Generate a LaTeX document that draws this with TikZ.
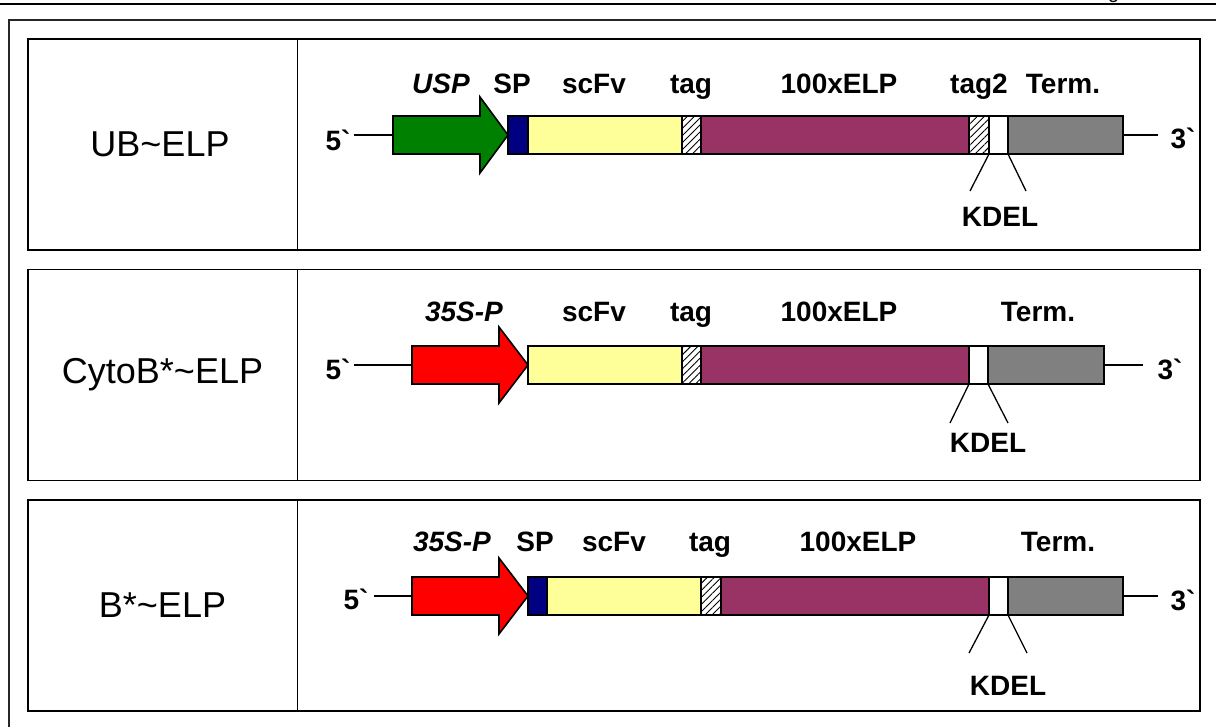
\documentclass[tikz,border=0pt]{standalone}
\usepackage{fontspec}
\setmainfont{Liberation Sans}[Ligatures=TeXOff]
\usetikzlibrary{patterns.meta}
\definecolor{promgreen}{RGB}{0,128,0}
\definecolor{promred}{RGB}{255,0,0}
\definecolor{spnavy}{RGB}{0,0,128}
\definecolor{scfvyellow}{RGB}{255,255,153}
\definecolor{elppurple}{RGB}{153,51,102}
\definecolor{termgray}{RGB}{128,128,128}
\tikzset{
  seg/.style={draw=black, line width=1.6pt, inner sep=0pt, outer sep=0pt, minimum height=38pt, anchor=west},
  hatchseg/.style={seg, fill=white, postaction={pattern={Lines[angle=45,distance=5pt,line width=0.9pt]}}},
  promo/.style={draw=black, line width=1.6pt, line join=miter},
  wire/.style={draw=black, line width=1.3pt},
  lab/.style={font=\bfseries\fontsize{28}{30}\selectfont, anchor=base, inner sep=0pt},
  labit/.style={font=\bfseries\itshape\fontsize{28}{30}\selectfont, anchor=base, inner sep=0pt},
  namelab/.style={font=\fontsize{36}{40}\selectfont, inner sep=0pt},
  panelbox/.style={draw=black, line width=1.8pt, inner sep=0pt, outer sep=0pt, anchor=north west, minimum width=1172pt, minimum height=211pt},
  panelline/.style={draw=black, line width=1.8pt},
  frameline/.style={draw=black!85, line width=1.6pt},
}
\newcommand\segm[5]{\node[seg,#5,minimum width={#3pt-#2pt}] (#1) at (#2,#4) {};}
\begin{document}
\begin{tikzpicture}[x=1pt,y=-1pt]
\useasboundingbox (0,0) rectangle (1216,726);
% header rule and clipped header glyph
\coordinate (hl) at (0,4); \coordinate (hr) at (1216,4);
\draw[line width=2.6pt] (hl) -- (hr);
\node[anchor=base, inner sep=0pt, font=\itshape\fontsize{20}{22}\selectfont] (hdg) at (1115,-2) {g};
% outer frame
\coordinate (fb) at (9,730); \coordinate (fc) at (9,20); \coordinate (fr) at (1220,20);
\draw[frameline] (fb) -- (fc) -- (fr);
% panels
\node[panelbox] (pan1) at (28,39) {};
\node[panelbox] (pan2) at (28,269.5) {};
\node[panelbox] (pan3) at (28,500) {};
\coordinate (d1t) at (297.5,39); \coordinate (d1b) at (297.5,250);
\coordinate (d2t) at (297.5,269.5); \coordinate (d2b) at (297.5,480.5);
\coordinate (d3t) at (297.5,500); \coordinate (d3b) at (297.5,711);
\draw[panelline] (d1t) -- (d1b);
\draw[panelline] (d2t) -- (d2b);
\draw[panelline] (d3t) -- (d3b);
\node[namelab] (n1) at (160,144.5) {UB\textasciitilde ELP};
\node[namelab] (n2) at (162.5,375) {CytoB*\textasciitilde ELP};
\node[namelab] (n3) at (162.5,605.5) {B*\textasciitilde ELP};

% ---------- panel 1 ----------
\draw[promo, fill=promgreen] (393,116) -- (480,116) -- (480,97) -- (508,135) -- (480,173) -- (480,154) -- (393,154) -- cycle;
\coordinate (a1tail) at (393,135);
\segm{a1sp}{508}{528}{135}{fill=spnavy}
\segm{a1scfv}{528}{682}{135}{fill=scfvyellow}
\segm{a1tag}{682}{701}{135}{hatchseg}
\segm{a1elp}{701}{969}{135}{fill=elppurple}
\segm{a1tagb}{969}{989}{135}{hatchseg}
\segm{a1kdel}{989}{1008}{135}{fill=white}
\segm{a1term}{1008}{1123}{135}{fill=termgray}
\node[lab] (a1five) at (338,150) {5`};
\node[lab] (a1three) at (1183,148) {3`};
\coordinate (a1ws) at (354,135); \coordinate (a1we) at (1158,135);
\draw[wire] (a1ws) -- (a1tail);
\draw[wire] (a1term.east) -- (a1we);
\coordinate (a1kl) at (970,191); \coordinate (a1kr) at (1026,191);
\draw[wire] (a1kdel.south west) -- (a1kl);
\draw[wire] (a1kdel.south east) -- (a1kr);
\node[lab] (a1kdeltxt) at (1000,226) {KDEL};
\node[labit] (a1usp) at (441,93) {USP};
\node[lab] (a1splab) at (512,93) {SP};
\node[lab] (a1scfvlab) at (594,93) {scFv};
\node[lab] (a1taglab) at (691,93) {tag};
\node[lab] (a1elplab) at (839,93) {100xELP};
\node[lab] (a1tagblab) at (979,93) {tag2};
\node[lab] (a1termlab) at (1063,93) {Term.};

% ---------- panel 2 ----------
\draw[promo, fill=promred] (412,346) -- (499,346) -- (499,327) -- (528,365) -- (499,403) -- (499,384) -- (412,384) -- cycle;
\coordinate (a2tail) at (412,365);
\segm{a2scfv}{528}{682}{365}{fill=scfvyellow}
\segm{a2tag}{682}{701}{365}{hatchseg}
\segm{a2elp}{701}{969}{365}{fill=elppurple}
\segm{a2kdel}{969}{988}{365}{fill=white}
\segm{a2term}{988}{1104}{365}{fill=termgray}
\node[lab] (a2five) at (338,379) {5`};
\node[lab] (a2three) at (1170,379) {3`};
\coordinate (a2ws) at (354,365); \coordinate (a2we) at (1143,365);
\draw[wire] (a2ws) -- (a2tail);
\draw[wire] (a2term.east) -- (a2we);
\coordinate (a2kl) at (950,423); \coordinate (a2kr) at (1008,423);
\draw[wire] (a2kdel.south west) -- (a2kl);
\draw[wire] (a2kdel.south east) -- (a2kr);
\node[lab] (a2kdeltxt) at (988,452) {KDEL};
\node[labit] (a2prom) at (464,321) {35S-P};
\node[lab] (a2scfvlab) at (594,321) {scFv};
\node[lab] (a2taglab) at (691,321) {tag};
\node[lab] (a2elplab) at (839,321) {100xELP};
\node[lab] (a2termlab) at (1038,321) {Term.};

% ---------- panel 3 ----------
\draw[promo, fill=promred] (412,577) -- (499,577) -- (499,558) -- (528,596) -- (499,634) -- (499,615) -- (412,615) -- cycle;
\coordinate (a3tail) at (412,596);
\segm{a3sp}{528}{547}{596}{fill=spnavy}
\segm{a3scfv}{547}{701}{596}{fill=scfvyellow}
\segm{a3tag}{701}{721}{596}{hatchseg}
\segm{a3elp}{721}{989}{596}{fill=elppurple}
\segm{a3kdel}{989}{1008}{596}{fill=white}
\segm{a3term}{1008}{1123}{596}{fill=termgray}
\node[lab] (a3five) at (356,609) {5`};
\node[lab] (a3three) at (1183,610) {3`};
\coordinate (a3ws) at (374,596); \coordinate (a3we) at (1158,596);
\draw[wire] (a3ws) -- (a3tail);
\draw[wire] (a3term.east) -- (a3we);
\coordinate (a3kl) at (969,653); \coordinate (a3kr) at (1027,653);
\draw[wire] (a3kdel.south west) -- (a3kl);
\draw[wire] (a3kdel.south east) -- (a3kr);
\node[lab] (a3kdeltxt) at (1008,695) {KDEL};
\node[labit] (a3prom) at (452,551) {35S-P};
\node[lab] (a3splab) at (535,551) {SP};
\node[lab] (a3scfvlab) at (614,551) {scFv};
\node[lab] (a3taglab) at (710,551) {tag};
\node[lab] (a3elplab) at (858,551) {100xELP};
\node[lab] (a3termlab) at (1058,551) {Term.};
\end{tikzpicture}
\end{document}
